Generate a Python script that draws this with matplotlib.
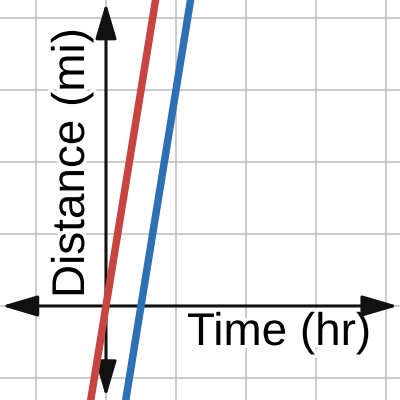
import matplotlib as mpl
mpl.use('Agg')
import matplotlib.pyplot as plt
import numpy as np
from matplotlib.patches import FancyArrowPatch, ArrowStyle
import matplotlib.patheffects as pe

# two lines: distance = slope * (time - start)
slope = 6
red_start = 0.0
blue_start = 0.5
x_label = 'Time (hr)'
y_label = 'Distance (mi)'

xmin, xmax = -1.514, 4.2
ymin, ymax = -1.306, 4.25

fig = plt.figure(figsize=(4, 4), dpi=100)
ax = fig.add_axes([0, 0, 1, 1])
ax.set_xlim(xmin, xmax)
ax.set_ylim(ymin, ymax)
for side in ['top', 'right', 'bottom', 'left']:
    ax.spines[side].set_visible(False)
ax.set_xticks([])
ax.set_yticks([])

# grid
for gx in np.arange(-1, 5):
    ax.axvline(gx, color='#bdbdbd', lw=1.1, zorder=0)
for gy in np.arange(-1, 5):
    ax.axhline(gy, color='#bdbdbd', lw=1.1, zorder=0)

# axes with arrows
arrow_style = ArrowStyle('<|-|>', head_length=22, head_width=6.5)
ax.add_patch(FancyArrowPatch((xmin + 0.025, 0), (xmax - 0.03, 0), arrowstyle=arrow_style,
                             mutation_scale=1, lw=2.2, color='#111111',
                             shrinkA=0, shrinkB=0, zorder=3))
ax.add_patch(FancyArrowPatch((0, ymin + 0.045), (0, ymax - 0.04), arrowstyle=arrow_style,
                             mutation_scale=1, lw=2.2, color='#111111',
                             shrinkA=0, shrinkB=0, zorder=3))

# labels
halo = [pe.withStroke(linewidth=5, foreground='white')]
ax.text(0.4675, 0.1375, x_label, transform=ax.transAxes, fontsize=33,
        family='Liberation Sans', ha='left', va='baseline', zorder=2,
        path_effects=halo)
ax.text(0.21, 0.255, y_label, transform=ax.transAxes, fontsize=33,
        family='Liberation Sans', ha='left', va='baseline', rotation=90,
        rotation_mode='anchor', zorder=2, path_effects=halo)

# lines
xs = np.array([xmin, xmax])
ax.plot(xs, slope * (xs - red_start), color='#c74440', lw=5.4,
        solid_capstyle='butt', zorder=4)
ax.plot(xs, slope * (xs - blue_start), color='#2d70b3', lw=5.4,
        solid_capstyle='butt', zorder=4)

plt.savefig('out.png', dpi=100)
plt.close()
